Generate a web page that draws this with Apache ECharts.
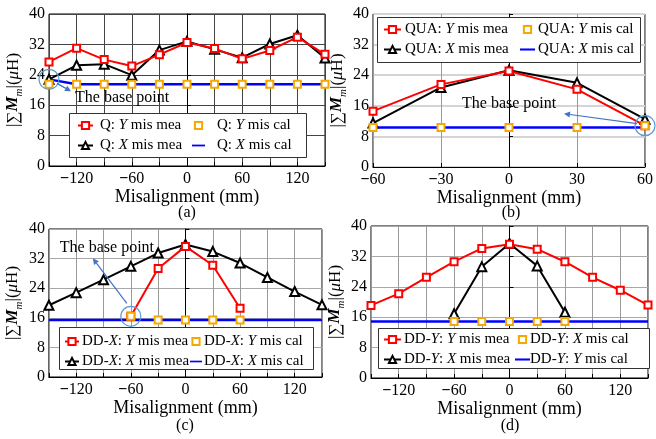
<!DOCTYPE html>
<html>
<head>
<meta charset="utf-8">
<script src="https://cdn.jsdelivr.net/npm/echarts@6/dist/echarts.min.js"></script>
<style>html,body{margin:0;padding:0;background:#fff}#c{width:656px;height:439px}</style>
</head>
<body>
<div id="c"></div>
<script>
// ---------- data ----------
const xFull = [-150, -120, -90, -60, -30, 0, 30, 60, 90, 120, 150];
const xHalf = [-60, -30, 0, 30, 60];
const yTicks = [0, 8, 16, 24, 32, 40];

// (a) Q
const qYmea = [27.4, 31.0, 28.0, 26.3, 29.3, 32.5, 30.9, 28.2, 30.4, 33.9, 29.4];
const qXmea = [22.8, 26.5, 26.8, 23.9, 30.5, 32.8, 30.7, 28.5, 32.1, 34.4, 28.4];
const qYcal = [21.5, 21.5, 21.5, 21.5, 21.5, 21.5, 21.5, 21.5, 21.5, 21.5, 21.5];
const qXcal = [22.8, 21.5, 21.5, 21.5, 21.5, 21.5, 21.5, 21.5, 21.5, 21.5, 21.5];

// (b) QUA
const quaYmea = [14.6, 21.6, 25.1, 20.3, 10.8];
const quaXmea = [11.5, 20.8, 25.3, 22.0, 12.5];
const quaYcal = [10.3, 10.3, 10.3, 10.3, 10.8];
const quaXcal = [10.3, 10.3, 10.3, 10.3, 10.3];

// (c) DD-X
const ddxYmea = [16.4, 29.3, 35.3, 30.2, 18.6];
const ddxXmea = [19.4, 22.8, 26.3, 29.9, 33.5, 35.8, 33.9, 30.8, 26.9, 23.1, 19.5];
const ddxYcal = [16.4, 15.4, 15.4, 15.4, 15.4];
const ddxXcal = [15.4, 15.4, 15.4, 15.4, 15.4, 15.4, 15.4, 15.4, 15.4, 15.4, 15.4];

// (d) DD-Y
const ddyYmea = [19.1, 22.2, 26.5, 30.6, 34.1, 35.2, 33.9, 30.6, 26.5, 23.1, 19.2];
const ddyXmea = [16.9, 29.3, 35.4, 29.5, 17.3];
const ddyXcal = [14.9, 14.9, 14.9, 14.9, 14.9];
const ddyYcal = [14.9, 14.9, 14.9, 14.9, 14.9, 14.9, 14.9, 14.9, 14.9, 14.9, 14.9];

// ---------- styling ----------
const FF = 'Liberation Serif, Times New Roman, serif';
const RED = '#ff0000', BLK = '#000000', YEL = '#f5a800', BLU = '#0000ff';

const grids = [
  {left: 49, top: 14, width: 276, height: 152},
  {left: 373, top: 14, width: 275, height: 153},
  {left: 47, top: 229, width: 275, height: 148},
  {left: 371, top: 226, width: 277, height: 152}
];
const xRanges = [[-150, 150], [-60, 60], [-150, 150], [-150, 150]];
const gridColors = [['#444', '#444'], ['#999', '#d4d4d4'], ['#999', '#a8a8a8'], ['#999', '#a8a8a8']];

function fmtNum(v) { return v < 0 ? '{m|\u2212}' + (-v) : String(v); }
const labelRich = {m: {fontFamily: FF, fontSize: 16, fontWeight: 'bold', color: '#000'}};

const xAxes = grids.map((g, i) => ({
  type: 'value', gridIndex: i, min: xRanges[i][0], max: xRanges[i][1], interval: 30,
  axisLine: {show: true, lineStyle: {color: '#000', width: 1}},
  axisTick: {show: true, inside: true, length: 4, lineStyle: {color: '#000'}},
  splitLine: {show: true, lineStyle: {color: gridColors[i][0], width: 1}},
  axisLabel: {
    color: '#000', fontFamily: FF, fontSize: 16, margin: 5, rich: labelRich,
    formatter: v => (i === 1 ? fmtNum(v) : (v % 60 === 0 ? fmtNum(v) : ''))
  },
  name: 'Misalignment (mm)', nameLocation: 'middle', nameGap: 22,
  nameTextStyle: {color: '#000', fontFamily: FF, fontSize: 18}
}));

const yAxes = grids.map((g, i) => ({
  type: 'value', gridIndex: i, min: yTicks[0], max: yTicks[yTicks.length - 1], interval: yTicks[1] - yTicks[0],
  axisLine: {show: true, lineStyle: {color: '#000', width: 1}},
  axisTick: {show: true, inside: true, length: 4, lineStyle: {color: '#000'}},
  splitLine: {show: true, lineStyle: {color: gridColors[i][1], width: i === 1 ? 2 : 1}},
  axisLabel: {color: '#000', fontFamily: FF, fontSize: 16, margin: 4, formatter: v => fmtNum(v)},
  name: '|\u2211{b|M}{s|m}|({i|\u03bc}H)', nameLocation: 'middle', nameGap: 23, nameRotate: 90,
  nameTextStyle: {
    color: '#000', fontFamily: FF, fontSize: 17, lineHeight: 20,
    rich: {
      b: {fontFamily: FF, fontSize: 17, fontWeight: 'bold', fontStyle: 'italic', color: '#000', lineHeight: 20},
      s: {fontFamily: FF, fontSize: 11, fontStyle: 'italic', color: '#000', verticalAlign: 'bottom', lineHeight: 24},
      i: {fontFamily: FF, fontSize: 17, fontStyle: 'italic', color: '#000', lineHeight: 20}
    }
  }
}));

function pairs(xs, ys) { return xs.map((x, k) => [x, ys[k]]); }

function sRed(i, name, xs, ys) {
  return {type: 'line', name, xAxisIndex: i, yAxisIndex: i, data: pairs(xs, ys), clip: false, z: 4,
    color: RED, symbol: 'emptyRect', symbolSize: 7, lineStyle: {color: RED, width: 2},
    itemStyle: {color: RED, borderWidth: 1.5}};
}
function sBlk(i, name, xs, ys) {
  return {type: 'line', name, xAxisIndex: i, yAxisIndex: i, data: pairs(xs, ys), clip: false, z: 3,
    color: BLK, symbol: 'emptyTriangle', symbolSize: 9, lineStyle: {color: BLK, width: 2},
    itemStyle: {color: BLK, borderWidth: 1.5}};
}
function sYel(i, name, xs, ys) {
  return {type: 'line', name, xAxisIndex: i, yAxisIndex: i, data: pairs(xs, ys), clip: false, z: 5,
    color: YEL, symbol: 'emptyRect', symbolSize: 7, lineStyle: {width: 0, opacity: 0},
    itemStyle: {color: YEL, borderWidth: 2}};
}
function sBlu(i, name, xs, ys) {
  return {type: 'line', name, xAxisIndex: i, yAxisIndex: i, data: pairs(xs, ys), clip: false, z: 2,
    color: BLU, symbol: 'none', showSymbol: false, lineStyle: {color: BLU, width: 2.5}};
}

const series = [
  sBlu(0, 'Q: X mis cal', xFull, qXcal),
  sBlk(0, 'Q: X mis mea', xFull, qXmea),
  sRed(0, 'Q: Y mis mea', xFull, qYmea),
  sYel(0, 'Q: Y mis cal', xFull, qYcal),

  sBlu(1, 'QUA: X mis cal', xHalf, quaXcal),
  sBlk(1, 'QUA: X mis mea', xHalf, quaXmea),
  sRed(1, 'QUA: Y mis mea', xHalf, quaYmea),
  sYel(1, 'QUA: Y mis cal', xHalf, quaYcal),

  sBlu(2, 'DD-X: X mis cal', xFull, ddxXcal),
  sBlk(2, 'DD-X: X mis mea', xFull, ddxXmea),
  sRed(2, 'DD-X: Y mis mea', xHalf, ddxYmea),
  sYel(2, 'DD-X: Y mis cal', xHalf, ddxYcal),

  sBlu(3, 'DD-Y: Y mis cal', xFull, ddyYcal),
  sBlk(3, 'DD-Y: X mis mea', xHalf, ddyXmea),
  sRed(3, 'DD-Y: Y mis mea', xFull, ddyYmea),
  sYel(3, 'DD-Y: X mis cal', xHalf, ddyXcal)
];

const BLUE_NAMES = ['Q: X mis cal', 'QUA: X mis cal', 'DD-X: X mis cal', 'DD-Y: Y mis cal'];
function legendFmt(name) {
  return name.replace(/-([XY]):/, '-{i|$1}:').replace(/: ([XY]) /, ': {i|$1} ');
}
function mkLegend(names, left, top, itemWidth, padL) {
  const data = names.map(n => BLUE_NAMES.indexOf(n) >= 0 ? {name: n, icon: 'path://M0,0H40V5.5H0Z'} : n);
  return {
    data, left, top, orient: 'vertical', padding: 0, itemGap: 5, itemWidth, itemHeight: 9,
    symbolKeepAspect: true,
    z: 10, selectedMode: false, formatter: legendFmt,
    textStyle: {fontFamily: FF, fontSize: 15, color: '#000', padding: [0, 0, 0, padL],
      rich: {i: {fontFamily: FF, fontSize: 15, fontStyle: 'italic', color: '#000'}}}
  };
}
const legends = [
  mkLegend(['Q: Y mis mea', 'Q: X mis mea'], 77, 118, 15, 2),
  mkLegend(['Q: Y mis cal', 'Q: X mis cal'], 192, 118, 13, 7),
  mkLegend(['QUA: Y mis mea', 'QUA: X mis mea'], 383, 22, 17, -1),
  mkLegend(['QUA: Y mis cal', 'QUA: X mis cal'], 520, 22, 15, -2),
  mkLegend(['DD-X: Y mis mea', 'DD-X: X mis mea'], 64, 334, 14, -2),
  mkLegend(['DD-X: Y mis cal', 'DD-X: X mis cal'], 190, 334, 12, -3),
  mkLegend(['DD-Y: Y mis mea', 'DD-Y: X mis mea'], 383, 332, 17, -2),
  mkLegend(['DD-Y: X mis cal', 'DD-Y: Y mis cal'], 515, 332, 15, -5)
];

const boxes = [[69, 113, 237, 44], [377, 17, 263, 45], [59, 327, 254, 42], [378, 328, 271, 40]];
const captions = [['(a)', 187, 213], ['(b)', 511, 213], ['(c)', 185, 426], ['(d)', 510, 426]];

const chart = echarts.init(document.getElementById('c'), null, {renderer: 'canvas'});
chart.setOption({
  backgroundColor: '#fff',
  animation: false,
  grid: grids.map(g => Object.assign({show: true, borderColor: '#000', borderWidth: 1, backgroundColor: 'transparent'}, g)),
  xAxis: xAxes,
  yAxis: yAxes,
  legend: legends,
  series
});

// ---------- annotations (positioned from data via the axes) ----------
const g = [];
boxes.forEach(b => g.push({type: 'rect', z: 8, shape: {x: b[0] + 0.5, y: b[1] + 0.5, width: b[2], height: b[3]},
  style: {fill: '#fff', stroke: '#333', lineWidth: 1}}));
captions.forEach(c => g.push({type: 'text', z: 8, x: c[1], y: c[2],
  style: {text: c[0], font: '16px ' + FF, fill: '#000', textAlign: 'center', textVerticalAlign: 'middle'}}));

function arrow(x1, y1, x2, y2) {
  const a = Math.atan2(y2 - y1, x2 - x1), L = 6, W = 3;
  const bx = x2 - L * Math.cos(a), by = y2 - L * Math.sin(a);
  g.push({type: 'line', z: 9, shape: {x1, y1, x2: bx, y2: by}, style: {stroke: '#4472c4', lineWidth: 1.2}});
  g.push({type: 'polygon', z: 9, shape: {points: [[x2, y2],
    [bx + W * Math.sin(a), by - W * Math.cos(a)], [bx - W * Math.sin(a), by + W * Math.cos(a)]]},
    style: {fill: '#4472c4'}});
}
function basePoint(gi, x, y, circR, a0, a1, txt) {
  const p = chart.convertToPixel({gridIndex: gi}, [x, y]);
  g.push({type: 'circle', z: 9, shape: {cx: p[0], cy: p[1], r: circR}, style: {fill: 'none', stroke: '#5b9bd5', lineWidth: 1.2}});
  arrow(p[0] + a0[0], p[1] + a0[1], p[0] + a1[0], p[1] + a1[1]);
  g.push({type: 'text', z: 9, x: p[0] + txt[0], y: p[1] + txt[1],
    style: {text: 'The base point', font: '16px ' + FF, fill: '#000', textAlign: 'left', textVerticalAlign: 'middle'}});
}
basePoint(0, xFull[0], qXmea[0], 10, [8, 4], [22, 12], [26, 18]);
basePoint(1, xHalf[4], quaYmea[4], 10, [-8, -2], [-81, -12], [-183, -22]);
basePoint(2, xHalf[0], ddxYmea[0], 10, [-4, -13], [-38, -58], [-71, -69]);

chart.setOption({graphic: {elements: g}});
</script>
</body>
</html>
